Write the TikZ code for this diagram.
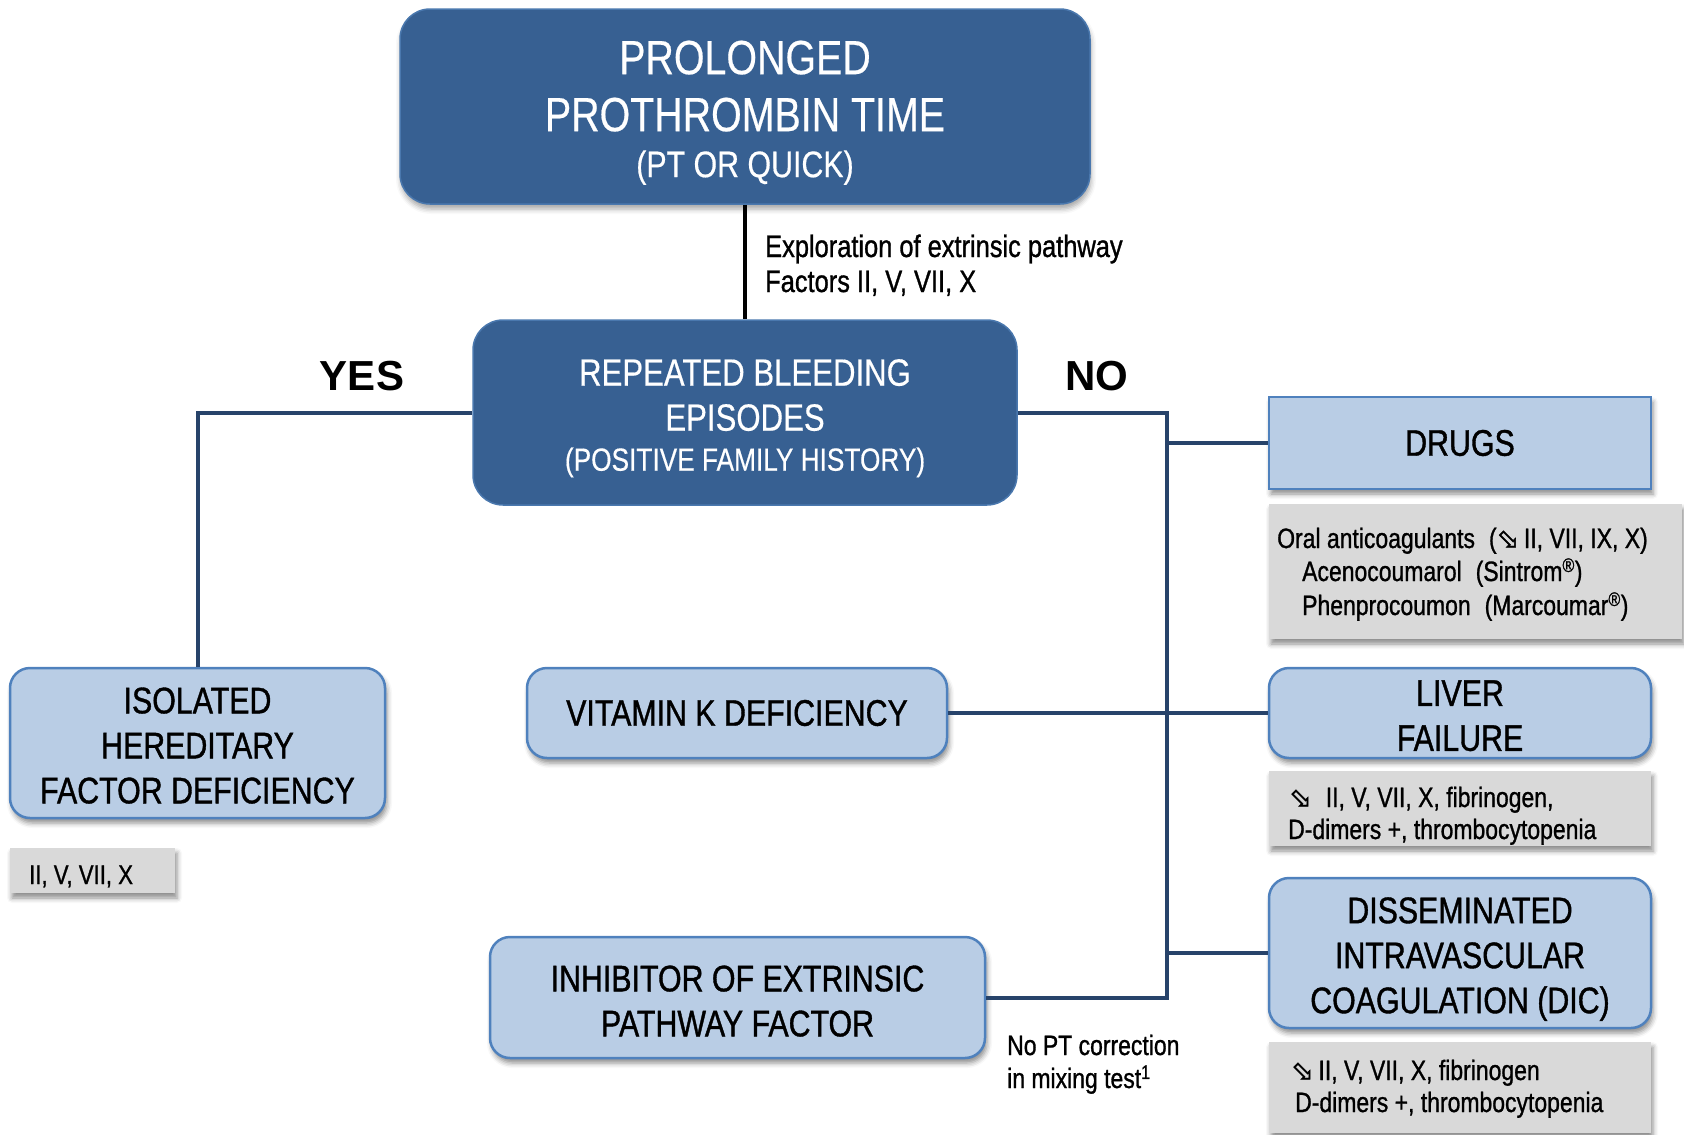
\documentclass[tikz,border=0pt]{standalone}
\usepackage{fontspec}
\setmainfont{Liberation Sans}[FakeStretch=0.82, FakeBold=1.0]
\newfontfamily\whitefont{Liberation Sans}[FakeStretch=0.82, FakeBold=0.4]
\newfontfamily\widefont{Liberation Sans}
\newfontfamily\symfont{DejaVu Sans}[FakeBold=1.5]
\usetikzlibrary{shadows.blur}
\definecolor{darkfill}{HTML}{376092}
\definecolor{darkedge}{HTML}{4A78AE}
\definecolor{lightfill}{HTML}{B9CDE5}
\definecolor{lightedge}{HTML}{4F81BD}
\definecolor{grayfill}{HTML}{D9D9D9}
\definecolor{connc}{HTML}{27436A}
\newcommand{\dnarrow}{{\symfont\fontsize{27}{27}\selectfont ⬂}}
\newcommand{\lift}[1]{\rule{0pt}{#1}}
\begin{document}
\begin{tikzpicture}[x=1pt,y=-1pt,
  darkbox/.style={draw=darkedge, line width=1.5pt, fill=darkfill, rounded corners=30pt, text=white, align=center, inner sep=0pt},
  lightbox/.style={draw=lightedge, line width=2.5pt, fill=lightfill, rounded corners=20pt, align=center, inner sep=0pt, font=\fontsize{37}{45}\selectfont,
     blur shadow={shadow xshift=2pt, shadow yshift=-5pt, shadow blur radius=5pt, shadow opacity=45}},
  graybox/.style={fill=grayfill, inner sep=0pt,
     blur shadow={shadow xshift=2pt, shadow yshift=-5pt, shadow blur radius=5pt, shadow opacity=45}},
  conn/.style={draw=connc, line width=4pt},
  smalltext/.style={anchor=base west, inner sep=0pt, font=\fontsize{28}{32}\selectfont},
  yesno/.style={anchor=base, inner sep=0pt, font=\widefont\bfseries\fontsize{42}{42}\selectfont}]
\useasboundingbox (0,0) rectangle (1684,1135);

% main dark boxes
\node[darkbox, minimum width=690pt, minimum height=195pt, font=\whitefont\fontsize{48}{57}\selectfont,
  blur shadow={shadow xshift=1pt, shadow yshift=-5pt, shadow blur radius=5pt, shadow opacity=35}]
  (top) at (745,106.5)
  {\lift{46pt}PROLONGED\\PROTHROMBIN TIME\\[-11pt]{\fontsize{37}{46}\selectfont (PT OR QUICK)}};
\node[darkbox, minimum width=544pt, minimum height=185pt, font=\whitefont\fontsize{38}{45}\selectfont] (rep) at (745,412.5)
  {\lift{38pt}REPEATED BLEEDING\\EPISODES\\[-5pt]{\fontsize{32}{40}\selectfont (POSITIVE FAMILY HISTORY)}};

% light boxes
\node[lightbox, minimum width=375pt, minimum height=150pt] (iso) at (197.5,743)
  {\lift{31pt}ISOLATED\\HEREDITARY\\FACTOR DEFICIENCY};
\node[lightbox, minimum width=420pt, minimum height=90pt] (vitk) at (737,713)
  {VITAMIN K DEFICIENCY};
\node[lightbox, minimum width=495pt, minimum height=121pt] (inhib) at (737.5,997.5)
  {\lift{33pt}INHIBITOR OF EXTRINSIC\\PATHWAY FACTOR};
\node[lightbox, rounded corners=0pt, minimum width=382pt, minimum height=92pt] (drugs) at (1460,443)
  {DRUGS};
\node[lightbox, minimum width=382pt, minimum height=90pt] (liver) at (1460,713)
  {\lift{31pt}LIVER\\FAILURE};
\node[lightbox, minimum width=382pt, minimum height=150pt] (dic) at (1460,953)
  {\lift{38pt}DISSEMINATED\\INTRAVASCULAR\\COAGULATION (DIC)};

% gray info boxes
\node[graybox, minimum width=165pt, minimum height=45pt] (isog) at (92.5,870.5) {};
\node[graybox, minimum width=413pt, minimum height=135pt] (drugsg) at (1475.5,571.5) {};
\node[graybox, minimum width=382pt, minimum height=75pt] (liverg) at (1460,808.5) {};
\node[graybox, minimum width=382pt, minimum height=91pt] (dicg) at (1460,1087.5) {};

\node[smalltext, font=\fontsize{27}{32}\selectfont] (isot) at (29,884) {II, V, VII, X};

\node[smalltext] (drug1) at (1277,548) {Oral anticoagulants\enspace(\dnarrow\,II, VII, IX, X)};
\node[smalltext] (drug2) at (1302,581) {Acenocoumarol\enspace(Sintrom\textsuperscript{®})};
\node[smalltext] (drug3) at (1302,615) {Phenprocoumon\enspace(Marcoumar\textsuperscript{®})};

\node[smalltext] (liv1) at (1289,807) {\dnarrow\enspace II, V, VII, X, fibrinogen,};
\node[smalltext] (liv2) at (1288,839) {D-dimers +, thrombocytopenia};

\node[smalltext] (dic1) at (1291,1080) {\dnarrow\,II, V, VII, X, fibrinogen};
\node[smalltext] (dic2) at (1295,1112) {D-dimers +, thrombocytopenia};

% labels
\node[smalltext, font=\fontsize{31}{35}\selectfont] (expl1) at (765,257) {Exploration of extrinsic pathway};
\node[smalltext, font=\fontsize{31}{35}\selectfont] (expl2) at (765,292) {Factors II, V, VII, X};
\node[smalltext] (mix1) at (1007,1055) {No PT correction};
\node[smalltext] (mix2) at (1007,1088) {in mixing test\textsuperscript{1}};
\node[yesno] (yes) at (362,390) {YES};
\node[yesno] (no) at (1097,390) {NO};

% connectors
\coordinate (busT) at (1167,412.5);
\coordinate (busB) at (1167,997.5);
\draw[line width=4pt, black] (top.south) -- (rep.north);
\draw[conn] (rep.west) -| (iso.north);
\draw[conn] (rep.east) -- (busT) -- (busB) -- (inhib.east);
\draw[conn] (busT |- drugs.west) -- (drugs.west);
\draw[conn] (vitk.east) -- (liver.west);
\draw[conn] (busT |- dic.west) -- (dic.west);
\end{tikzpicture}
\end{document}
